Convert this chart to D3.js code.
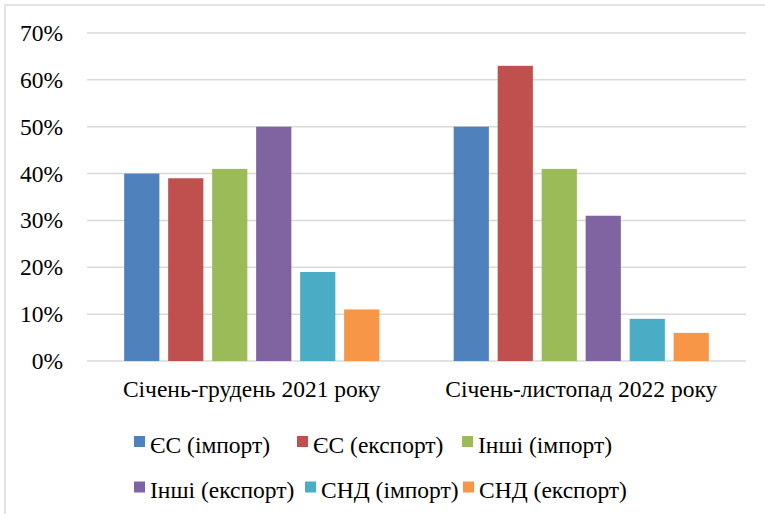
<!DOCTYPE html>
<html>
<head>
<meta charset="utf-8">
<script src="https://cdn.jsdelivr.net/npm/d3@7"></script>
</head>
<body style="margin:0">
<svg id="visuals" width="765" height="514"></svg>
<script>
const periods = ["Січень-грудень 2021 року", "Січень-листопад 2022 року"];
const seriesNames = ["ЄС (імпорт)", "ЄС (експорт)", "Інші (імпорт)", "Інші (експорт)", "СНД (імпорт)", "СНД (експорт)"];
const values2021 = [40, 39, 41, 50, 19, 11];
const values2022 = [50, 63, 41, 31, 9, 6];
const yTicks = [0, 10, 20, 30, 40, 50, 60, 70];
const colors = ["#4f81bd", "#c0504d", "#9bbb59", "#8064a2", "#4bacc6", "#f79646"];

const config = {
  left: 87,
  right: 746,
  top: 33,
  bottom: 361,
  fontSize: 23.5,
  font: "Liberation Serif",
};

function main() {
  const svg = d3.select("#visuals");
  const data = [values2021, values2022];

  // frame
  svg.append("rect")
    .attr("x", 5).attr("y", 5)
    .attr("width", 770).attr("height", 520)
    .attr("fill", "none")
    .attr("stroke", "#d9d9d9")
    .attr("stroke-width", 1.5);

  const x0 = d3.scaleBand().domain(periods).range([config.left, config.right]);
  const x1 = d3.scaleBand().domain(seriesNames).range([0, x0.bandwidth()]).paddingInner(0.2).paddingOuter(0.845);
  const y = d3.scaleLinear().domain([0, 70]).range([config.bottom, config.top]);

  // gridlines
  svg.append("g")
    .selectAll("line")
    .data(yTicks)
    .join("line")
    .attr("x1", config.left)
    .attr("x2", config.right)
    .attr("y1", (d) => y(d))
    .attr("y2", (d) => y(d))
    .attr("stroke", "#d9d9d9")
    .attr("stroke-width", 1.5);

  // y labels
  svg.append("g")
    .selectAll("text")
    .data(yTicks)
    .join("text")
    .attr("x", 63)
    .attr("y", (d) => y(d) + 8)
    .attr("text-anchor", "end")
    .attr("font-family", config.font)
    .attr("font-size", config.fontSize)
    .text((d) => d + "%");

  // bars
  periods.forEach((p, i) => {
    svg.append("g")
      .selectAll("rect")
      .data(data[i])
      .join("rect")
      .attr("x", (d, j) => x0(p) + x1(seriesNames[j]))
      .attr("y", (d) => y(d))
      .attr("width", x1.bandwidth())
      .attr("height", (d) => y(0) - y(d))
      .attr("fill", (d, j) => colors[j]);
  });

  // category labels
  svg.append("g")
    .selectAll("text")
    .data(periods)
    .join("text")
    .attr("x", (d) => x0(d) + x0.bandwidth() / 2)
    .attr("y", 397)
    .attr("text-anchor", "middle")
    .attr("font-family", config.font)
    .attr("font-size", config.fontSize)
    .text((d) => d);

  // legend
  const legendX = [[134, 297, 462], [134, 305, 463]];
  const legendY = [441.5, 487];
  seriesNames.forEach((name, i) => {
    const row = Math.floor(i / 3);
    const col = i % 3;
    const g = svg.append("g").attr("transform", `translate(${legendX[row][col]},${legendY[row]})`);
    g.append("rect")
      .attr("x", 0).attr("y", -5.5)
      .attr("width", 11).attr("height", 11)
      .attr("fill", colors[i]);
    g.append("text")
      .attr("x", 16)
      .attr("y", 11)
      .attr("font-family", config.font)
      .attr("font-size", config.fontSize)
      .text(name);
  });
}

main();
</script>
</body>
</html>
